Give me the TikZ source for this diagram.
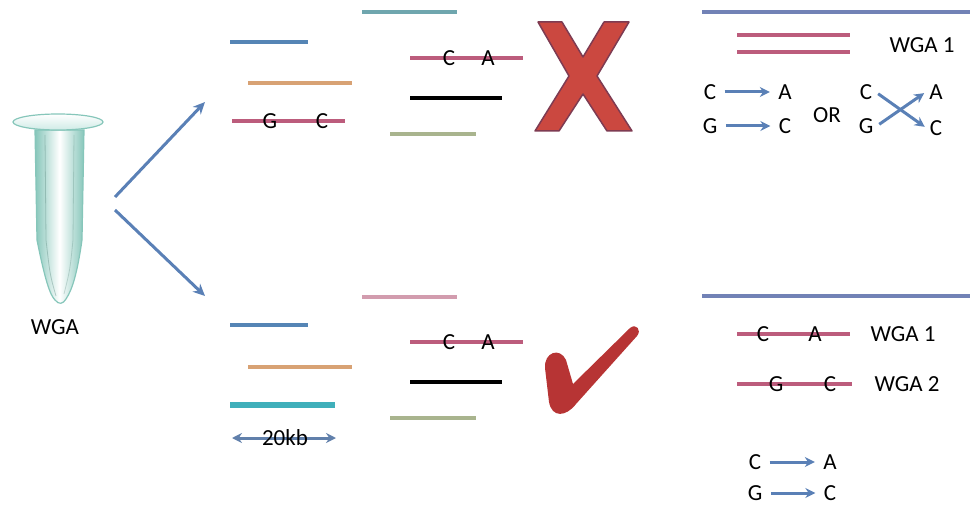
\documentclass[tikz,border=0pt]{standalone}
\usepackage{fontspec}
\setmainfont{Carlito}
\usetikzlibrary{arrows.meta, positioning}

\definecolor{arrowblue}{HTML}{5A80B6}
\definecolor{fragblue}{HTML}{5585B5}
\definecolor{fragorange}{HTML}{D8A274}
\definecolor{fragpink}{HTML}{BC5C7C}
\definecolor{fragteal}{HTML}{6FA6AE}
\definecolor{fragcyan}{HTML}{3FAFBA}
\definecolor{fragolive}{HTML}{A9B48E}
\definecolor{fragrose}{HTML}{D29CAE}
\definecolor{refblue}{HTML}{7282B6}
\definecolor{crossred}{HTML}{CB4840}
\definecolor{crossedge}{HTML}{7E3B52}
\definecolor{tickred}{HTML}{B73434}
\definecolor{tubeedge}{HTML}{86C6BA}
\definecolor{tubefill}{HTML}{CFEBE6}

\begin{document}
\begin{tikzpicture}[x=1pt, y=-1pt, >=Stealth, font=\fontsize{23}{26}\selectfont,
    frag/.style={line width=3.5pt},
    base/.style={inner sep=1pt},
    bigarrow/.style={arrowblue, line width=3pt, -{Stealth[length=12pt, width=11pt]}},
    smallarrow/.style={arrowblue, line width=3pt, -{Stealth[length=10pt, width=10pt]}, shorten <=5pt, shorten >=5pt}]
\useasboundingbox (0,0) rectangle (972,508);

% tube
\shade[left color=tubeedge, right color=tubeedge, middle color=white, draw=tubeedge, line width=1.2pt]
  (35,130) -- (37,240) .. controls (45,280) and (50,295) .. (55,300)
  .. controls (59,305) and (63,304) .. (66,299) .. controls (72,290) and (77,275) .. (82,240) -- (84,130) -- cycle;
\draw[tubeedge!70!black, line width=0.8pt, opacity=0.4] (45,135) -- (46,240) .. controls (50,275) .. (56,296);
\draw[tubeedge!70!black, line width=0.8pt, opacity=0.3] (74,135) -- (73,240) .. controls (70,270) .. (64,294);
\shade[top color=white, bottom color=tubefill, draw=tubeedge, line width=1.2pt] (58,122) ellipse [x radius=45, y radius=8];
\node (wga) at (55,327) {WGA};

\coordinate (fork1) at (115,197);
\coordinate (fork2) at (115,210);
\coordinate (grp1) at (205,102);
\coordinate (grp2) at (205,296);
\draw[bigarrow] (fork1) -- (grp1);
\draw[bigarrow] (fork2) -- (grp2);

% first amplification
\draw[frag, fragblue] (230,42) -- (308,42);
\draw[frag, fragorange] (248,83) -- (352,83);
\draw[frag, fragpink] (232,121) -- (345,121);
\node[base] (g1) at (270,121) {G};
\node[base] (c1) at (322,121) {C};
\draw[frag, fragteal] (362,12) -- (457,12);
\draw[frag, fragpink] (410,58) -- (523,58);
\node[base] (c2) at (449,58) {C};
\node[base] (a2) at (488,58) {A};
\draw[frag, black] (410,98) -- (502,98);
\draw[frag, fragolive] (390,134) -- (476,134);

\filldraw[fill=crossred, draw=crossedge, line width=1.5pt, line join=round]
  (538,22) -- (562,22) -- (583,57) -- (604,22) -- (629,22) -- (597,76) -- (632,131)
  -- (607,131) -- (583,94) -- (559,131) -- (535,131) -- (569,76) -- cycle;

\draw[frag, refblue] (702,12) -- (970,12);
\draw[frag, fragpink] (737,35) -- (850,35);
\draw[frag, fragpink] (737,52) -- (850,52);
\node (wga1) at (922,45) {WGA 1};

\node (src1) at (710,92) {C};
\node (dst1) at (785,92) {A};
\node (src2) at (710,126) {G};
\node (dst2) at (785,126) {C};
\draw[smallarrow] (src1) -- (dst1);
\draw[smallarrow] (src2) -- (dst2);
\node (or) at (827,115) {OR};
\node (src3) at (866,92) {C};
\node (src4) at (866,126) {G};
\node (dst3) at (936,92) {A};
\node (dst4) at (936,128) {C};
\draw[smallarrow, shorten <=3pt, shorten >=2pt] (src3.east) -- (dst4.west);
\draw[smallarrow, shorten <=3pt, shorten >=2pt] (src4.east) -- (dst3.west);

% second amplification
\draw[frag, fragrose] (362,297) -- (457,297);
\draw[frag, fragblue] (230,325) -- (308,325);
\draw[frag, fragorange] (248,367) -- (352,367);
\draw[fragcyan, line width=5.5pt] (230,405) -- (335,405);
\coordinate (kbl) at (232,438);
\coordinate (kbr) at (336,438);
\draw[arrowblue!80!gray, line width=3pt, {Stealth[length=10pt, width=10pt]}-{Stealth[length=10pt, width=10pt]}] (kbl) -- (kbr);
\node[base] (kb) at (285,438) {20kb};
\draw[frag, fragpink] (410,342) -- (523,342);
\node[base] (c3) at (449,342) {C};
\node[base] (a3) at (488,342) {A};
\draw[frag, black] (410,382) -- (502,382);
\draw[frag, fragolive] (390,418) -- (476,418);

\fill[tickred]
  (545,368) .. controls (544,352) and (560,347) .. (566,360)
  -- (573,384) -- (630,328) .. controls (636,323) and (642,330) .. (637,336)
  -- (576,404) .. controls (566,417) and (552,418) .. (549,402) -- cycle;

\draw[frag, refblue] (702,296) -- (970,296);
\draw[frag, fragpink] (737,334) -- (850,334);
\node[base] (c4) at (763,334) {C};
\node[base] (a4) at (815,334) {A};
\node (wga2) at (903,334) {WGA 1};
\draw[frag, fragpink] (737,384) -- (852,384);
\node[base] (g4) at (776,384) {G};
\node[base] (c5) at (830,384) {C};
\node (wga3) at (907,384) {WGA 2};

\node (src5) at (755,462) {C};
\node (dst5) at (830,462) {A};
\node (src6) at (755,493) {G};
\node (dst6) at (830,493) {C};
\draw[smallarrow] (src5) -- (dst5);
\draw[smallarrow] (src6) -- (dst6);
\end{tikzpicture}
\end{document}
